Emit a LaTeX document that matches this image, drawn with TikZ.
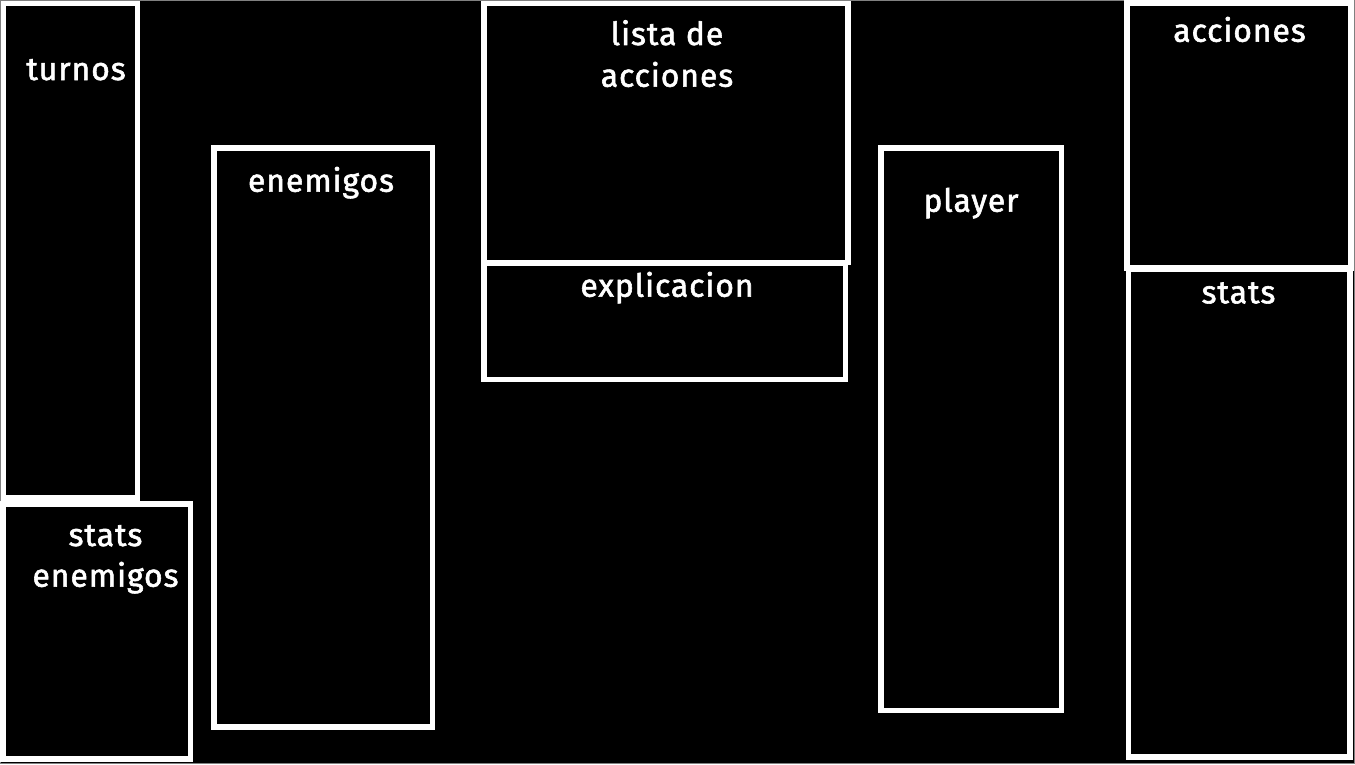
\documentclass[tikz,border=0pt]{standalone}
\usepackage{fontspec}
\setmainfont{Fira Sans}
\newfontfamily\lblfont{Fira Sans}[FakeBold=1.8, LetterSpace=3]
\begin{document}
\begin{tikzpicture}[x=1bp,y=-1bp,
  panel/.style={draw=white, line width=5.5bp, inner sep=0pt, outer sep=0pt, anchor=center},
  lbl/.style={text=white, anchor=base, inner sep=0pt, font=\lblfont\fontsize{32}{41}\selectfont, align=center}]
\fill[black] (0,0) rectangle (1355,764);
\useasboundingbox (0,0) rectangle (1355,764);
\draw[gray, line width=1bp] (0.5,0.5) rectangle (1354.5,763.5);
% panels
\node[panel, minimum width=134bp, minimum height=494.5bp] (turnos) at (70.5,250.75) {};
\node[panel, minimum width=187.5bp, minimum height=255bp] (statsen) at (96.75,631.5) {};
\node[panel, minimum width=218.5bp, minimum height=579bp] (enemigos) at (323.25,437.5) {};
\node[panel, minimum width=364bp, minimum height=259bp] (lista) at (666,133) {};
\node[panel, minimum width=361.5bp, minimum height=116bp] (explic) at (664.75,321.5) {};
\node[panel, minimum width=180.5bp, minimum height=562.5bp] (player) at (971.25,429.25) {};
\node[panel, minimum width=221.5bp, minimum height=488bp] (stats) at (1239.25,513) {};
\node[panel, minimum width=224bp, minimum height=265bp] (acciones) at (1239,135.5) {};
% labels
\node[lbl] (tturnos) at (76,80) {turnos};
\node[lbl] (tstatsen1) at (105.5,546) {stats};
\node[lbl] (tstatsen2) at (105.5,586.7) {enemigos};
\node[lbl] (tenemigos) at (321,191.7) {enemigos};
\node[lbl] (tlista1) at (667,45) {lista de};
\node[lbl] (tlista2) at (667,86.7) {acciones};
\node[lbl] (texplic) at (667,296.7) {explicacion};
\node[lbl] (tplayer) at (971,211.7) {player};
\node[lbl] (tacciones) at (1239.5,41.7) {acciones};
\node[lbl] (tstats) at (1238.5,303.3) {stats};
\end{tikzpicture}
\end{document}
